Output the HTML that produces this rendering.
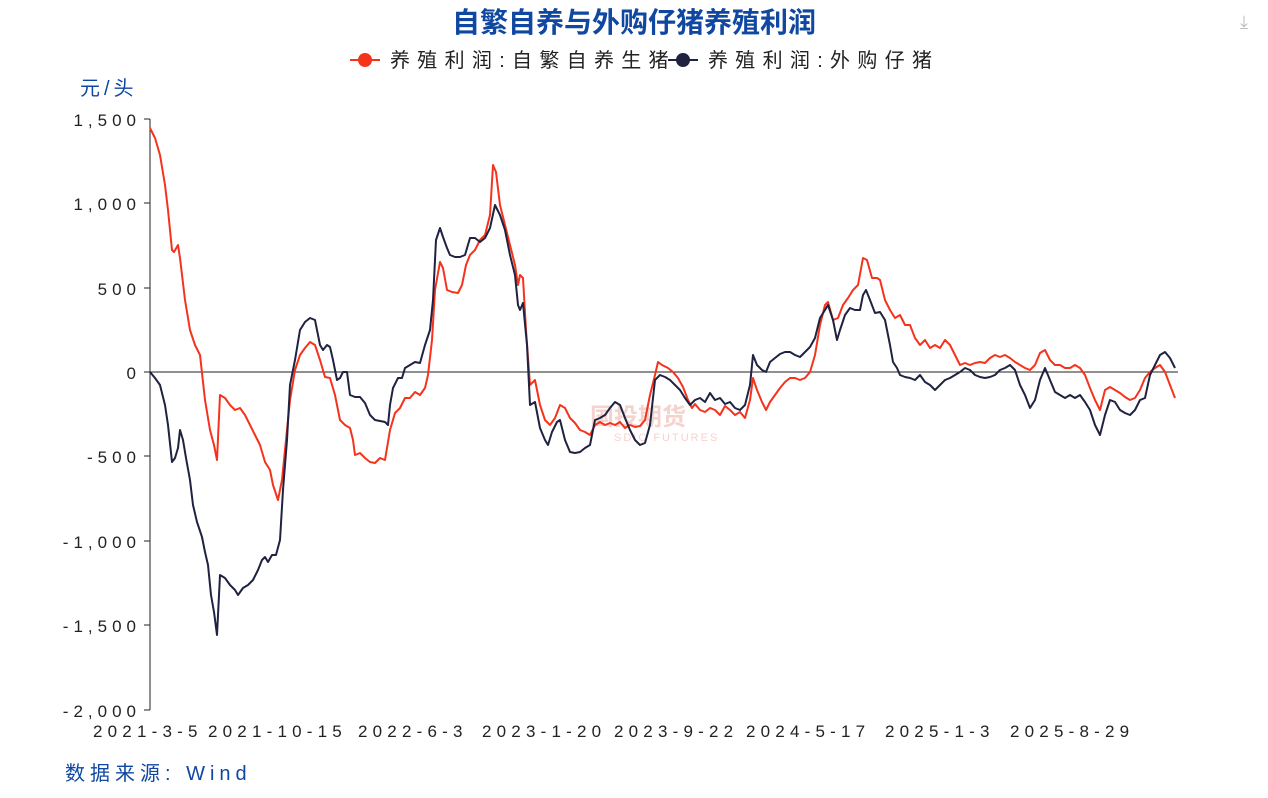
<!DOCTYPE html>
<html><head><meta charset="utf-8"><style>
body{margin:0;background:#fff;width:1268px;height:793px;overflow:hidden}
svg text{font-family:"Liberation Sans","Noto Sans CJK SC",sans-serif}
</style></head><body>
<svg width="1268" height="793" viewBox="0 0 1268 793">
<text x="634" y="32" text-anchor="middle" font-size="28" font-weight="bold" fill="#0f47a1">自繁自养与外购仔猪养殖利润</text>
<line x1="350" y1="60" x2="380" y2="60" stroke="#f5331c" stroke-width="2"/><circle cx="365" cy="60" r="7" fill="#f5331c"/>
<text x="390" y="67" font-size="20" fill="#222" letter-spacing="7.3">养殖利润:自繁自养生猪</text>
<line x1="668" y1="60" x2="698" y2="60" stroke="#1f2240" stroke-width="2"/><circle cx="683" cy="60" r="7" fill="#1f2240"/>
<text x="708" y="67" font-size="20" fill="#222" letter-spacing="7.3">养殖利润:外购仔猪</text>
<text x="80" y="95" font-size="20" fill="#0f47a1" letter-spacing="4">元/头</text>
<g font-size="17" fill="#222" text-anchor="end" letter-spacing="5">
<text x="141" y="126">1,500</text><text x="141" y="210">1,000</text><text x="141" y="295">500</text><text x="141" y="379">0</text><text x="141" y="463">-500</text><text x="141" y="548">-1,000</text><text x="141" y="632">-1,500</text><text x="141" y="717">-2,000</text>
</g>
<line x1="150" y1="119" x2="150" y2="710" stroke="#222"/>
<g stroke="#222"><line x1="144" y1="119" x2="150" y2="119"/><line x1="144" y1="203" x2="150" y2="203"/><line x1="144" y1="288" x2="150" y2="288"/><line x1="144" y1="372" x2="150" y2="372"/><line x1="144" y1="456" x2="150" y2="456"/><line x1="144" y1="541" x2="150" y2="541"/><line x1="144" y1="625" x2="150" y2="625"/><line x1="144" y1="710" x2="150" y2="710"/></g>
<line x1="150" y1="372" x2="1178" y2="372" stroke="#222"/>
<g font-size="17" fill="#222" letter-spacing="5.2">
<text x="93" y="737">2021-3-5</text><text x="208" y="737">2021-10-15</text><text x="358" y="737">2022-6-3</text><text x="482" y="737">2023-1-20</text><text x="614" y="737">2023-9-22</text><text x="746" y="737">2024-5-17</text><text x="885" y="737">2025-1-3</text><text x="1010" y="737">2025-8-29</text>
</g>
<text x="65" y="780" font-size="20" fill="#0f47a1" letter-spacing="5">数据来源: Wind</text>
<text x="590" y="425" font-size="24" fill="#f3c0b8" opacity="0.7" font-weight="bold">国投期货</text>
<text x="614" y="441" font-size="11" fill="#f3c0b8" opacity="0.7" letter-spacing="2">SDIC FUTURES</text>
<text x="1240" y="28" font-size="18" fill="#bbb">⤓</text>
<polyline fill="none" stroke="#f5331c" stroke-width="2" stroke-linejoin="round" points="150,128 155,138 160,155 165,185 168,210 172,250 174,252 178,245 180,258 185,300 190,330 195,345 200,355 205,400 210,430 214,445 217,460 220,395 225,398 230,405 235,410 240,408 245,415 250,425 255,435 260,445 265,462 270,470 273,485 278,500 282,480 285,450 290,400 295,370 300,355 305,348 310,342 315,345 320,360 325,377 330,378 335,395 340,420 345,425 350,428 353,440 355,455 360,453 365,458 370,462 375,463 380,458 385,460 390,430 395,413 400,408 405,398 410,398 415,392 420,395 425,388 428,375 432,340 435,290 440,262 443,268 447,290 452,292 458,293 462,285 466,265 470,255 475,250 480,240 485,235 490,215 493,165 496,172 500,205 505,225 510,245 515,265 518,285 520,275 523,278 526,330 530,385 535,380 540,405 545,420 550,425 555,418 560,405 565,408 570,418 575,423 580,430 585,432 590,435 595,425 600,422 605,425 610,423 615,425 620,422 625,428 630,425 635,427 640,426 645,420 650,395 655,375 658,362 662,365 668,368 673,372 678,378 683,387 688,400 692,408 695,404 700,410 705,412 710,408 715,410 720,415 725,406 730,410 735,415 740,412 745,418 750,400 753,378 757,390 762,402 766,410 770,402 775,395 780,388 785,382 790,378 795,378 800,380 805,378 810,372 815,355 820,325 825,305 828,302 833,320 838,318 843,305 848,298 853,290 858,285 863,258 867,260 872,278 877,278 880,280 885,300 890,310 895,318 900,315 905,325 910,325 915,338 920,345 925,340 930,348 935,345 940,348 945,340 950,345 955,355 960,365 965,363 970,365 975,363 980,362 985,363 990,358 995,355 1000,357 1005,355 1010,358 1015,362 1020,365 1025,368 1030,370 1035,365 1040,353 1045,350 1050,360 1055,365 1060,365 1065,368 1070,368 1075,365 1080,368 1085,375 1090,388 1095,400 1100,410 1105,390 1110,387 1115,390 1120,393 1125,397 1130,400 1135,398 1140,390 1145,378 1150,372 1155,368 1160,365 1165,372 1170,385 1175,398"/>
<polyline fill="none" stroke="#1f2240" stroke-width="2" stroke-linejoin="round" points="150,372 155,378 160,385 165,405 168,425 172,462 175,458 178,448 180,430 183,440 186,458 190,480 193,505 197,522 202,537 205,552 208,565 211,595 214,612 217,635 220,575 225,578 230,585 235,590 238,595 243,588 248,585 253,580 258,570 262,560 265,557 268,562 272,555 276,555 280,540 283,490 287,440 290,385 295,360 300,330 305,322 310,318 315,320 320,345 323,350 327,345 330,347 333,360 337,380 340,378 343,372 347,372 350,395 355,397 360,397 365,403 370,415 375,420 380,421 385,422 388,425 390,405 393,388 398,378 402,378 405,368 410,365 415,362 420,363 425,345 430,330 433,300 436,240 440,228 443,237 447,248 450,255 455,257 460,257 465,255 470,238 475,238 480,242 485,238 490,228 495,205 500,215 505,230 510,255 515,275 518,305 520,310 523,303 527,345 530,405 535,402 540,428 545,440 548,445 552,432 557,422 560,420 565,440 570,452 575,453 580,452 585,448 590,445 595,420 600,418 605,415 610,408 615,402 620,405 625,418 630,430 635,440 640,445 645,443 650,425 655,380 660,375 665,377 670,380 675,385 680,390 685,398 690,405 695,400 700,398 705,402 710,393 715,400 720,398 725,404 730,402 735,408 740,410 745,405 750,385 753,355 757,365 762,370 766,372 770,362 775,358 780,354 785,352 790,352 795,355 800,357 805,352 810,347 815,338 820,318 825,310 828,305 833,320 837,340 840,330 845,315 850,308 855,310 860,310 863,295 866,290 870,300 875,313 880,312 885,320 890,345 893,362 897,368 900,375 905,377 910,378 915,380 920,375 925,382 930,385 935,390 940,385 945,380 950,378 955,375 960,372 965,368 970,370 975,375 980,377 985,378 990,377 995,375 1000,370 1005,368 1010,365 1015,370 1020,385 1025,395 1030,408 1035,400 1040,380 1045,368 1050,380 1055,392 1060,395 1065,398 1070,395 1075,398 1080,395 1085,402 1090,410 1095,425 1100,435 1105,415 1110,400 1115,402 1120,410 1125,413 1130,415 1135,410 1140,400 1145,398 1150,375 1155,365 1160,355 1165,352 1170,358 1175,368"/>
</svg>
</body></html>
